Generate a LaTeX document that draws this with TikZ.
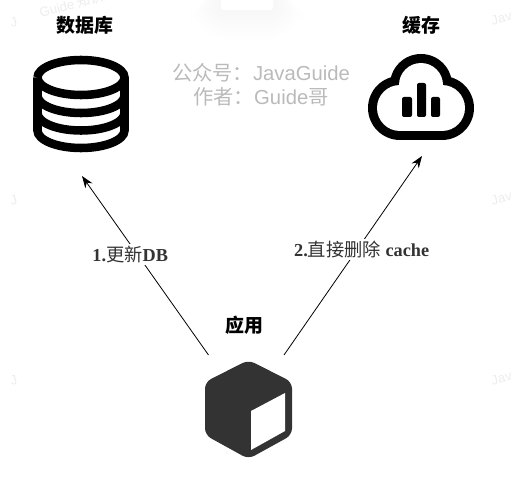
\documentclass[tikz,border=0pt]{standalone}
\usepackage{fontspec}
\setmainfont{Liberation Serif}
\setsansfont{Liberation Sans}
\newfontfamily\cjk{Noto Sans CJK SC}
\usetikzlibrary{arrows.meta}
\tikzset{
    x=.75pt,y=-.75pt,
    title/.style={font=\cjk\bfseries\fontsize{14.2}{17}\selectfont,text=black},
    caption/.style={font=\sffamily\fontsize{15.2}{18}\selectfont,text=black!27,align=center},
    edgelabel/.style={fill=white,inner sep=1.5pt,text=black!80,font=\bfseries\fontsize{13.7}{16}\selectfont},
    watermark/.style={font=\sffamily\fontsize{10}{12}\selectfont,text=black!7,rotate=15,anchor=west},
    thick line/.style={line width=6.4pt},
    flow/.style={-{Stealth[length=9pt,width=6.5pt]},line width=.6pt}
}
\newcommand{\thin}[1]{{\cjk\mdseries #1}}
\newcommand{\zh}[1]{{\cjk #1}}
\newcommand{\widecolon}{{\cjk\symbol{"FF1A}}}
\begin{document}
\begin{tikzpicture}
    \useasboundingbox (0,0) rectangle (511,478);
    \clip (0,0) rectangle (511,478);
    % faint marks
    \node[watermark] (markone) at (487,22) {Java};
    \node[watermark] (marktwo) at (487,202) {Java};
    \node[watermark] (markthree) at (487,382) {Java};
    \node[watermark] (markfour) at (35,14) {Guide \zh{知识星球}};
    \node[watermark] (markfive) at (6,24) {J};
    \node[watermark] (marksix) at (6,202) {J};
    \node[watermark] (markseven) at (6,382) {J};
    % box on top
    \foreach \r in {30,26,...,2}
        \fill[black,opacity=.004,rounded corners=\r pt] (221-\r,-10) rectangle (273+\r,10+\r);
    \fill[white,rounded corners=2pt] (221,-10) rectangle (273,10);
    % database
    \draw[thick line] (37.5,77.5) arc[start angle=180,end angle=-180,x radius=43.5,y radius=17.5];
    \draw[thick line] (37.5,77.5) -- (37.5,130.5) arc[start angle=180,end angle=0,x radius=43.5,y radius=17.5] -- (124.5,77.5);
    \draw[thick line] (37.5,95.5) arc[start angle=180,end angle=0,x radius=43.5,y radius=17.5];
    \draw[thick line] (37.5,113) arc[start angle=180,end angle=0,x radius=43.5,y radius=17.5];
    % cloud
    \fill (400,108) circle[radius=32];
    \fill (442,108) circle[radius=32];
    \fill (421,85) circle[radius=31];
    \fill (400,100) rectangle (442,140);
    \fill[white] (400,108) circle[radius=23];
    \fill[white] (442,108) circle[radius=23];
    \fill[white] (421,85) circle[radius=22];
    \fill[white] (400,100) rectangle (442,131);
    \fill[rounded corners=1.5pt] (402,97) rectangle (412,117);
    \fill[rounded corners=1.5pt] (417,83) rectangle (426,117);
    \fill[rounded corners=1.5pt] (431,97) rectangle (440,117);
    % cube
    \fill[black!80,rounded corners=5pt] (248.5,360) -- (292,382) -- (292,435) -- (248.5,459) -- (205,435) -- (205,382) -- cycle;
    \fill[white] (251,411) -- (285,393) -- (285,431) -- (251,450) -- cycle;

    \node[title] (dbtitle) at (85,25) {数据库};
    \node[title] (cachetitle) at (421,25) {缓存};
    \node[title] (apptitle) at (244,325) {应用};
    \node[caption] (notice) at (261,85) {\zh{公众号}\widecolon JavaGuide\\\zh{作者}\widecolon Guide\zh{哥}};

    \coordinate (appleft) at (208.5,355);
    \coordinate (appright) at (284,355);
    \coordinate (dbin) at (82,176);
    \coordinate (cachein) at (422,156);
    \draw[flow] (appleft) to node[edgelabel,pos=.56,xshift=-5.6pt] (dblabel) {1.\thin{更新}DB} (dbin);
    \draw[flow] (appright) to node[edgelabel,pos=.53,xshift=3.4pt] (cachelabel) {2.\thin{直接删除} cache} (cachein);
\end{tikzpicture}
\end{document}
